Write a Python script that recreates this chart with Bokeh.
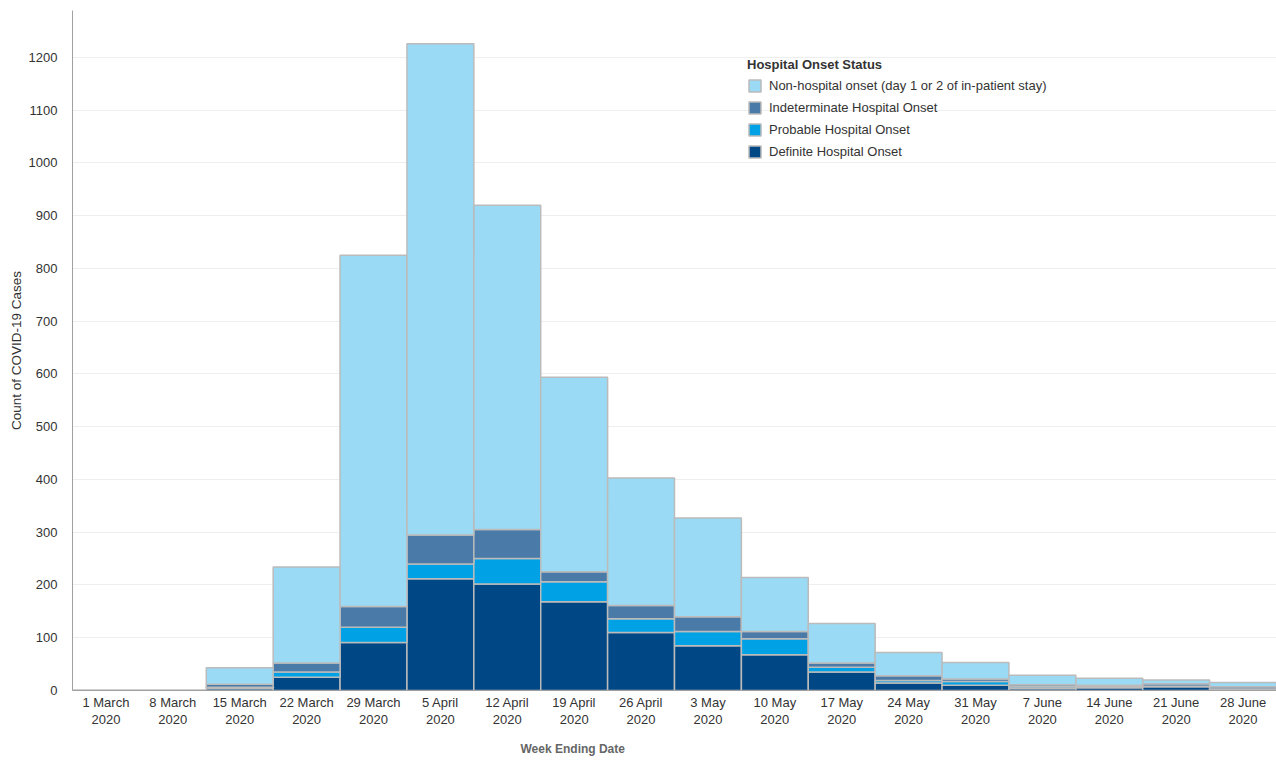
from bokeh.plotting import figure
from bokeh.models import Range1d, FixedTicker, Legend, LegendItem, Title, ColumnDataSource
from bokeh.embed import file_html
from bokeh.resources import INLINE

weeks = ["1 March\n2020", "8 March\n2020", "15 March\n2020", "22 March\n2020", "29 March\n2020",
         "5 April\n2020", "12 April\n2020", "19 April\n2020", "26 April\n2020", "3 May\n2020",
         "10 May\n2020", "17 May\n2020", "24 May\n2020", "31 May\n2020", "7 June\n2020",
         "14 June\n2020", "21 June\n2020", "28 June\n2020"]

definite      = [0, 0, 4, 25, 91, 212, 202, 168, 110, 85, 68, 35, 14, 10, 4, 5, 7, 2]
probable      = [0, 0, 2, 10, 29, 28, 48, 38, 26, 27, 30, 9, 5, 7, 3, 2, 1, 1]
indeterminate = [0, 0, 6, 17, 39, 55, 55, 19, 25, 28, 14, 8, 9, 5, 4, 3, 5, 4]
non_hospital  = [0, 0, 31, 182, 666, 931, 615, 369, 242, 187, 102, 75, 44, 31, 18, 13, 7, 8]

series = ["definite", "probable", "indeterminate", "non_hospital"]
labels = {"definite": "Definite Hospital Onset",
          "probable": "Probable Hospital Onset",
          "indeterminate": "Indeterminate Hospital Onset",
          "non_hospital": "Non-hospital onset (day 1 or 2 of in-patient stay)"}
colors = ["#004785", "#00A2E5", "#4A7AA8", "#9ADAF4"]

positions = [i + 0.5 for i in range(len(weeks))]
source = ColumnDataSource(dict(x=positions, definite=definite, probable=probable,
                               indeterminate=indeterminate, non_hospital=non_hospital))

FONT = "Liberation Sans"

p = figure(width=1276, height=765, output_backend="svg", toolbar_location=None,
           x_range=Range1d(0, len(weeks)), y_range=Range1d(0, 1289),
           min_border_left=72, min_border_right=0, min_border_top=10, min_border_bottom=74)
p.outline_line_color = None

renderers = p.vbar_stack(series, x="x", width=1.0, source=source, color=colors,
                         line_color="#BBBBBB", line_width=1.5)

# axes
p.xaxis.ticker = FixedTicker(ticks=positions)
p.xaxis.major_label_overrides = {pos: w for pos, w in zip(positions, weeks)}
p.xaxis.major_tick_line_color = None
p.xaxis.minor_tick_line_color = None
p.xaxis.major_label_standoff = -2
p.xaxis.major_label_text_font = FONT
p.xaxis.major_label_text_font_size = "13px"
p.xaxis.major_label_text_line_height = 1.15
p.xaxis.major_label_text_color = "#333333"
p.xaxis.axis_line_color = "#A0A0A0"

p.yaxis.ticker = FixedTicker(ticks=list(range(0, 1300, 100)))
p.yaxis.major_tick_line_color = None
p.yaxis.minor_tick_line_color = None
p.yaxis.major_label_standoff = 9
p.yaxis.major_label_text_font = FONT
p.yaxis.major_label_text_font_size = "13px"
p.yaxis.major_label_text_color = "#333333"
p.yaxis.axis_line_color = "#A0A0A0"
p.yaxis.axis_label = "Count of COVID-19 Cases"
p.yaxis.axis_label_text_font = FONT
p.yaxis.axis_label_text_font_size = "13.5px"
p.yaxis.axis_label_text_font_style = "normal"
p.yaxis.axis_label_text_color = "#333333"
p.yaxis.axis_label_standoff = 2

p.xgrid.grid_line_color = None
p.ygrid.grid_line_color = "#EEEEEE"

# x axis title
p.add_layout(Title(text="Week Ending Date", align="left", offset=448, text_font=FONT,
                   text_font_size="12px", text_font_style="bold", text_color="#666666",
                   standoff=20), "below")

# legend
items = [LegendItem(label=labels[s], renderers=[r]) for s, r in zip(series, renderers)]
items.reverse()
legend = Legend(items=items, location=(675, 529), title="Hospital Onset Status",
                title_text_font=FONT, title_text_font_size="13px", title_text_font_style="bold",
                title_text_color="#333333", title_standoff=3,
                label_text_font=FONT, label_text_font_size="13px", label_text_color="#333333",
                glyph_width=15, glyph_height=15, label_height=20, label_standoff=7, spacing=2,
                padding=0, margin=0, border_line_color=None, background_fill_alpha=0)
p.add_layout(legend)

open("out.html", "w").write(file_html(p, INLINE))
